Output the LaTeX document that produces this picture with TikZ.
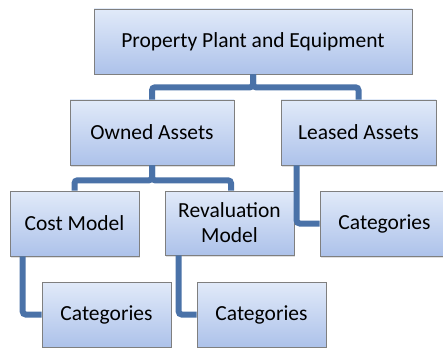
\documentclass[tikz,border=0pt]{standalone}
\usepackage{fontspec}
\setmainfont{Carlito}
\usetikzlibrary{shadows}
\definecolor{linkblue}{HTML}{4A72A8}
\definecolor{boxtop}{HTML}{E1EAF9}
\definecolor{boxbottom}{HTML}{ADC2EA}
\definecolor{boxborder}{HTML}{7F7F7F}

\begin{document}
\begin{tikzpicture}[x=1pt,y=-1pt,font=\fontsize{21.5}{25}\selectfont]
    \tikzstyle{box}=[rectangle,draw=boxborder,line width=0.6pt,top color=boxtop,bottom color=boxbottom,minimum height=65pt,inner sep=0pt,align=center,drop shadow={shadow xshift=1.2pt,shadow yshift=-1.5pt,opacity=0.25}]
    \tikzstyle{link}=[draw=linkblue,line width=6pt,rounded corners=3pt]

    \useasboundingbox (0,0) rectangle (443,347);
    \clip (0,0) rectangle (443,347);

    \node[box,minimum width=318pt] (ppe) at (253,41.5) {Property Plant and Equipment};
    \node[box,minimum width=164pt] (owned) at (152,132.5) {Owned Assets};
    \node[box,minimum width=155pt] (leased) at (358.5,132.5) {Leased Assets};
    \node[box,minimum width=129pt] (cost) at (74.5,223.5) {Cost Model};
    \node[box,minimum width=129pt,minimum height=64pt] (reval) at (229.5,223) {Revaluation\\Model};
    \node[box,minimum width=129pt] (catleased) at (384.5,223.5) {Categories};
    \node[box,minimum width=129pt] (catcost) at (106.5,314.5) {Categories};
    \node[box,minimum width=129pt] (catreval) at (261.5,314.5) {Categories};

    \draw[link] (ppe.south) -- ++(0,13) -| (owned.north);
    \draw[link] (ppe.south) -- ++(0,13) -| (leased.north);
    \draw[link] (owned.south) -- ++(0,15) -| (cost.north);
    \draw[link] (owned.south) -- ++(0,15) -| ([xshift=1.5pt]reval.north);
    \draw[link] ([xshift=16pt]leased.south west) |- (catleased.west);
    \draw[link] ([xshift=13pt]cost.south west) |- (catcost.west);
    \draw[link] ([xshift=14pt]reval.south west) |- (catreval.west);
\end{tikzpicture}
\end{document}
